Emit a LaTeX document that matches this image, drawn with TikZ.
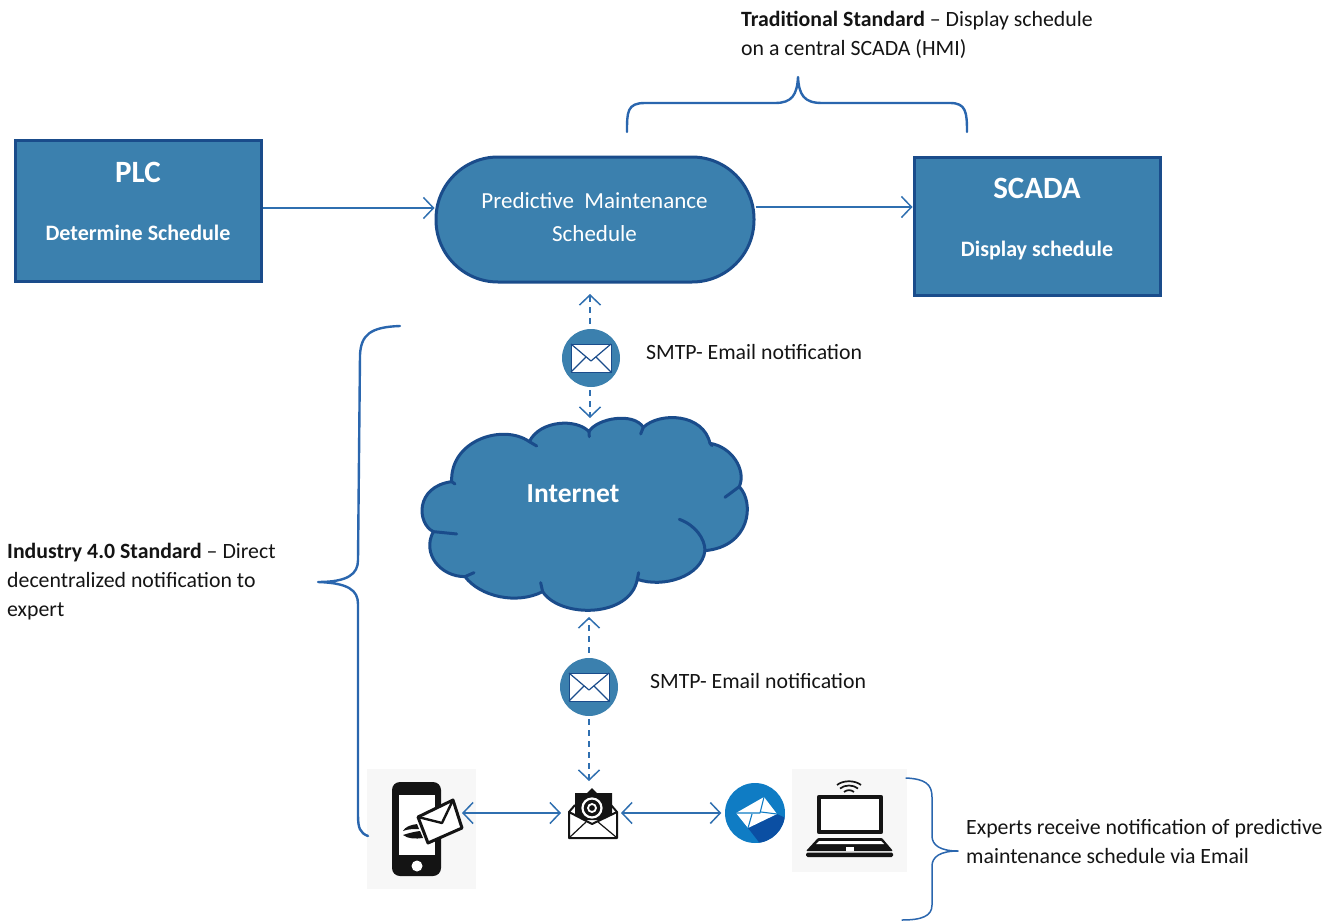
\documentclass[tikz,border=0pt]{standalone}
\usepackage{fontspec}
\setmainfont{Carlito}
\usetikzlibrary{arrows.meta,calc}
\definecolor{boxfill}{HTML}{3B80AE}
\definecolor{boxline}{HTML}{1A4C8B}
\definecolor{arrowc}{HTML}{2F6FB0}
\definecolor{bracec}{HTML}{2A66AE}
\definecolor{bluedk}{HTML}{0B4FA3}
\definecolor{bluelt}{HTML}{0F7CC4}
\definecolor{greybg}{HTML}{F7F7F7}
\definecolor{ink}{HTML}{141414}
\tikzset{
  box/.style={draw=boxline,fill=boxfill,line width=3pt,inner sep=0pt},
  boxtxt/.style={text=white,font=\fontsize{22}{33}\selectfont\bfseries,align=center,inner sep=0pt},
  conn/.style={draw=arrowc,line width=1.5pt,-{Straight Barb[length=10pt,width=21pt,line width=1.5pt]}},
  connb/.style={draw=arrowc,line width=1.5pt,{Straight Barb[length=10pt,width=21pt,line width=1.5pt]}-{Straight Barb[length=10pt,width=21pt,line width=1.5pt]}},
  dconn/.style={draw=arrowc,line width=1.5pt,-{Straight Barb[length=10pt,width=21pt,line width=1.5pt]},dash pattern=on 6pt off 5pt},
  lbl/.style={font=\fontsize{21.8}{28.8}\selectfont,text=ink,align=left,inner sep=0pt},
  brace/.style={draw=bracec,line width=2.4pt,line cap=round,line join=round},
  brace2/.style={draw=bracec,line width=1.5pt,line cap=round,line join=round},
  mailc/.style={circle,fill=boxfill,draw=none,minimum size=58pt,inner sep=0pt},
  cloudln/.style={draw=boxline,line width=3pt,line cap=round,line join=round}
}
\newcommand{\mailglyph}[1]{%
  \draw[fill=white,draw=boxline,line width=1pt,line join=round] ($(#1)+(-20,-14)$) rectangle ($(#1)+(20,14)$);
  \draw[draw=boxline,line width=1.2pt,line join=round] ($(#1)+(-20,-14)$) -- ($(#1)+(0,3)$) -- ($(#1)+(20,-14)$);
  \draw[draw=boxline,line width=1.2pt] ($(#1)+(-20,14)$) -- ($(#1)+(-5,-1)$);
  \draw[draw=boxline,line width=1.2pt] ($(#1)+(20,14)$) -- ($(#1)+(5,-1)$);
}
\begin{document}
\begin{tikzpicture}[x=1pt,y=-1pt]
\useasboundingbox (0,0) rectangle (1338,923);

% main boxes
\node[box,minimum width=246pt,minimum height=141pt] (plc) at (138,211) {};
\node[boxtxt] (plctxt) at (138,201.5) {\fontsize{31}{31}\selectfont PLC\\[25pt]Determine Schedule};
\node[box,minimum width=246pt,minimum height=138pt] (scada) at (1037,226) {};
\node[boxtxt] (scadatxt) at (1037,219.5) {\fontsize{31}{31}\selectfont SCADA\\[25pt]Display schedule};
\node[box,minimum width=318pt,minimum height=125pt,rounded corners=62pt] (pms) at (595,219.5) {};
\node[boxtxt,font=\fontsize{23}{33}\selectfont] (pmstxt) at (594.5,217.5) {Predictive\ \ Maintenance\\Schedule};

\draw[conn] ([yshift=3pt]plc.east) -- ([yshift=11.5pt]pms.west);
\draw[conn] ([yshift=12.5pt]pms.east) -- ([yshift=19pt]scada.west);

% cloud
\begin{scope}[shift={(400,290)},x=0.3333pt,y=-0.3333pt]
\draw[fill=boxfill,cloudln]
  (567,425) .. controls (590,385) and (700,365) .. (730,412)
  .. controls (780,365) and (910,370) .. (930,460)
  .. controls (995,470) and (1040,540) .. (1018,590)
  .. controls (1065,640) and (1050,770) .. (915,782)
  .. controls (905,860) and (790,895) .. (712,868)
  .. controls (690,985) and (480,985) .. (428,905)
  .. controls (350,945) and (240,920) .. (195,860)
  .. controls (120,860) and (65,790) .. (100,725)
  .. controls (50,700) and (45,590) .. (155,575)
  .. controls (150,450) and (310,400) .. (388,455)
  .. controls (420,390) and (530,385) .. (567,425) -- cycle;
\draw[cloudln] (567,425) -- (568,440);
\draw[cloudln] (730,412) -- (722,432);
\draw[cloudln] (930,460) -- (936,467);
\draw[cloudln] (1018,590) -- (975,622);
\draw[cloudln] (838,688) .. controls (885,705) and (915,745) .. (915,782);
\draw[cloudln] (712,868) -- (716,848);
\draw[cloudln] (428,905) -- (422,878);
\draw[cloudln] (195,860) -- (222,848);
\draw[cloudln] (100,725) -- (170,732);
\draw[cloudln] (155,575) -- (165,582);
\draw[cloudln] (388,455) -- (410,468);
\end{scope}
\node[font=\fontsize{27.5}{27.5}\selectfont\bfseries,text=white,inner sep=0pt] (inet) at (573,494) {Internet};

% mail circles
\node[mailc] (m1) at (591,358) {};
\mailglyph{m1}
\node[mailc] (m2) at (589,687) {};
\mailglyph{m2}
\coordinate (m1up) at (590,294);
\coordinate (m1dn) at (590,418);
\coordinate (m2up) at (589,617);
\coordinate (m2dn) at (589,781);
\draw[dconn] ([yshift=5pt]m1.north -| m1up) -- (m1up);
\draw[dconn] ([yshift=-3pt]m1.south -| m1dn) -- (m1dn);
\draw[dconn] ([yshift=5pt]m2.north) -- (m2up);
\draw[dconn] ([yshift=-3pt]m2.south) -- (m2dn);

\node[lbl,anchor=west] (l1) at (646,352) {SMTP- Email notification};
\node[lbl,anchor=west] (l2) at (650,681) {SMTP- Email notification};

% phone
\node[fill=greybg,minimum width=109pt,minimum height=120pt,inner sep=0pt] (phone) at (421.5,829) {};
\fill[ink,rounded corners=8pt] (392,782) rectangle (441,876);
\fill[white] (399,795) rectangle (435,855);
\fill[white] (417,866) circle (5.5);
\draw[draw=ink,fill=white,line width=3pt,line join=round] (418,817) -- (453,800) -- (462,828) -- (428,843) -- cycle;
\draw[draw=ink,line width=2.4pt,line join=round] (418,817) -- (442,823) -- (453,800);
\fill[ink] (417,824) .. controls (410,825) and (405,827) .. (403,831) .. controls (408,829) and (413,829) .. (419,829) -- cycle;
\fill[ink] (420,831) .. controls (412,832) and (406,834) .. (403,835) .. controls (408,839) and (416,839) .. (423,838) -- cycle;

% at envelope
\node[minimum width=49pt,minimum height=50pt,inner sep=0pt] (at) at (592.5,813) {};
\fill[ink] (575,793) -- (587,793) -- (592,788) -- (597,793) -- (612,793) -- (612,820) -- (575,820) -- cycle;
\draw[white,line width=2.2pt] (592,808) circle (9.5);
\draw[white,line width=1.8pt] (592,808) circle (4);
\draw[fill=white,draw=ink,line width=2pt,line join=round] (569,812) -- (569,838) -- (617,838) -- (617,812) -- (592,824) -- cycle;
\draw[ink,line width=2pt] (569,812) -- (575,805);
\draw[ink,line width=2pt] (617,812) -- (611,805);
\draw[ink,line width=1.2pt] (570,837) -- (586,822);
\draw[ink,line width=1.2pt] (616,837) -- (598,822);

% blue mail
\node[circle,fill=bluelt,minimum size=60pt,inner sep=0pt] (blue) at (755,813) {};
\begin{scope}
\clip (755,813) circle (30);
\fill[bluedk] (748,828) -- (777,814) -- (790,820) -- (785,850) -- (765,850) -- cycle;
\end{scope}
\fill[white] (736,813) -- (764,797) -- (777,814) -- (748,828) -- cycle;
\draw[draw=bluelt,line width=1.1pt,line join=round] (736,813) -- (760,813) -- (764,797);
\draw[draw=bluelt,line width=1.1pt] (748,828) -- (752,814);
\draw[draw=bluelt,line width=1.1pt] (777,814) -- (761,812);

% laptop
\node[fill=greybg,minimum width=115pt,minimum height=103pt,inner sep=0pt] (laptop) at (849.5,820.5) {};
\draw[ink,fill=white,line width=4.5pt,line join=round] (819,797) rectangle (881,832);
\fill[ink,rounded corners=1pt] (818,838) -- (882,838) -- (893,851) -- (806,851) -- cycle;
\fill[ink,rounded corners=1.5pt] (806,852.5) rectangle (893,857);
\fill[white] (819,841) -- (881,841) -- (884,844) -- (816,844) -- cycle;
\fill[white] (846,847) rectangle (854,851);
\draw[ink,line width=1.7pt] (837,785) .. controls (843,780) and (855,780) .. (861,785);
\draw[ink,line width=1.7pt] (840,788.5) .. controls (845,784.5) and (853,784.5) .. (858,788.5);
\draw[ink,line width=1.7pt] (844,792) .. controls (847,789.5) and (851,789.5) .. (854,792);

\coordinate (a1l) at (462,813);
\coordinate (a1r) at (561,813);
\coordinate (a2l) at (621,813);
\draw[connb] (a1l) -- (a1r);
\draw[connb] (a2l) -- ([xshift=-3.5pt]blue.west);

% braces
\draw[brace] (627,132) .. controls (627,112) and (627,103) .. (645,103) -- (775,103) .. controls (792,103) and (797,95) .. (798,77)
  .. controls (799,95) and (804,103) .. (822,103) -- (950,103) .. controls (966,103) and (967,112) .. (967,132);
\draw[brace] (400,326) .. controls (370,327) and (361,335) .. (360,355) -- (358,560) .. controls (358,574) and (348,582) .. (318,582)
  .. controls (348,583) and (358,590) .. (358,604) -- (358,815) .. controls (358,828) and (360,833) .. (368,836);
\draw[brace2] (906,778) .. controls (925,779) and (932,784) .. (932,797) -- (932,836) .. controls (932,845) and (940,851) .. (958,851)
  .. controls (940,851) and (932,857) .. (932,866) -- (932,905) .. controls (932,916) and (922,920) .. (902,920);

% labels
\node[lbl,anchor=north west] (t1) at (741,11) {\textbf{Traditional Standard} -- Display schedule\\on a central SCADA (HMI)};
\node[lbl,anchor=north west] (t2) at (7,543) {\textbf{Industry 4.0 Standard} -- Direct\\decentralized notification to\\expert};
\node[lbl,anchor=north west] (t3) at (966,819) {Experts receive notification of predictive\\maintenance schedule via Email};
\end{tikzpicture}
\end{document}
